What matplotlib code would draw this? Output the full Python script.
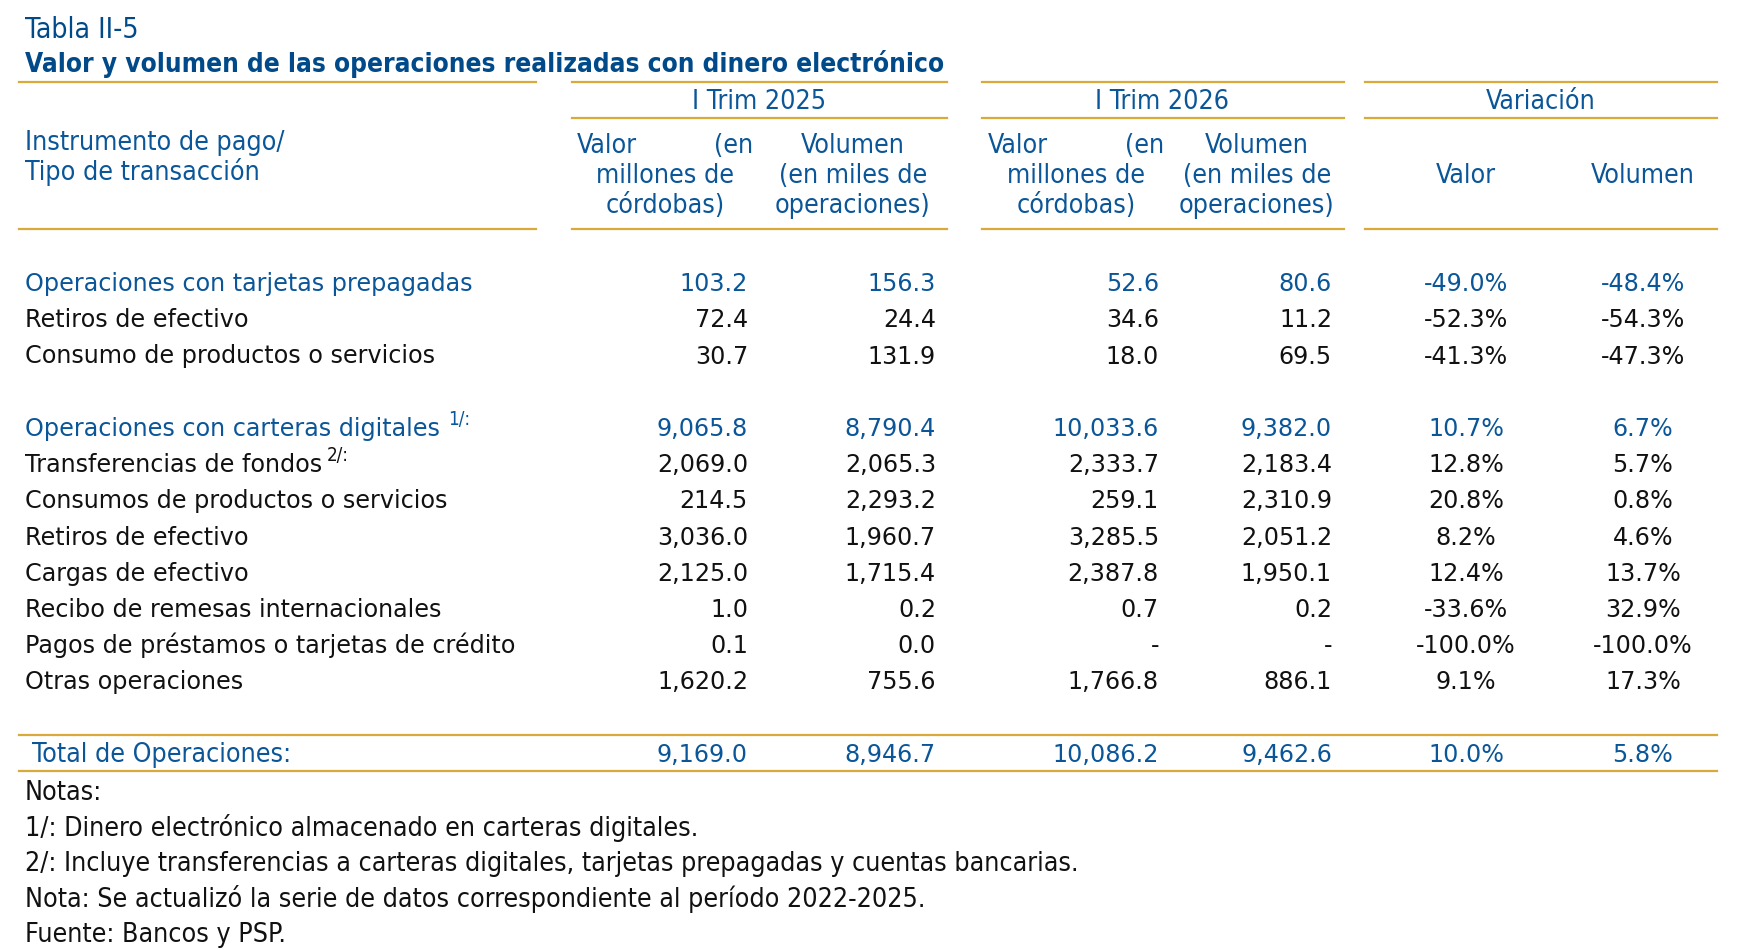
import matplotlib
matplotlib.use("Agg")
import matplotlib.pyplot as plt

# table data
row_labels = [
    "Operaciones con tarjetas prepagadas",
    "Retiros de efectivo",
    "Consumo de productos o servicios",
    "",
    "Operaciones con carteras digitales",
    "Transferencias de fondos",
    "Consumos de productos o servicios",
    "Retiros de efectivo",
    "Cargas de efectivo",
    "Recibo de remesas internacionales",
    "Pagos de préstamos o tarjetas de crédito",
    "Otras operaciones",
]
group_rows = [0, 4]
footnote_marks = {4: "1/:", 5: "2/:"}

valor_2025 = [103.2, 72.4, 30.7, None, 9065.8, 2069.0, 214.5, 3036.0, 2125.0, 1.0, 0.1, 1620.2]
volumen_2025 = [156.3, 24.4, 131.9, None, 8790.4, 2065.3, 2293.2, 1960.7, 1715.4, 0.2, 0.0, 755.6]
valor_2026 = [52.6, 34.6, 18.0, None, 10033.6, 2333.7, 259.1, 3285.5, 2387.8, 0.7, "-", 1766.8]
volumen_2026 = [80.6, 11.2, 69.5, None, 9382.0, 2183.4, 2310.9, 2051.2, 1950.1, 0.2, "-", 886.1]
var_valor = [-49.0, -52.3, -41.3, None, 10.7, 12.8, 20.8, 8.2, 12.4, -33.6, -100.0, 9.1]
var_volumen = [-48.4, -54.3, -47.3, None, 6.7, 5.7, 0.8, 4.6, 13.7, 32.9, -100.0, 17.3]

total_label = "Total de Operaciones:"
totals = [9169.0, 8946.7, 10086.2, 9462.6]
total_var = [10.0, 5.8]

notes = [
    "Notas:",
    "1/: Dinero electrónico almacenado en carteras digitales.",
    "2/: Incluye transferencias a carteras digitales, tarjetas prepagadas y cuentas bancarias.",
    "Nota: Se actualizó la serie de datos correspondiente al período 2022-2025.",
    "Fuente: Bancos y PSP.",
]

BLUE = "#0a5698"
TITLE_BLUE = "#004a8a"
GOLD = "#d9aa3a"
BLACK = "#111111"

# all text sits on its baseline so accents don't shift lines around
body = dict(family="DejaVu Sans", fontsize=17.2, va="baseline")
narrow = dict(family="DejaVu Sans", fontstretch="condensed", fontsize=19.2, va="baseline")
B = 6.6   # baseline offset below the visual centre, body font
N = 7.4   # same for the narrow font


def fmt_num(v):
    if v is None:
        return ""
    if isinstance(v, str):
        return v
    return f"{v:,.1f}"


def fmt_pct(v):
    if v is None:
        return ""
    return f"{v:.1f}%"


fig = plt.figure(figsize=(17.58, 9.5), dpi=100)
ax = fig.add_axes([0, 0, 1, 1])
ax.set_xlim(0, 1758)
ax.set_ylim(950, 0)
ax.axis("off")

# column anchors
x_label = 25
x_val25, x_vol25 = 748, 936
x_val26, x_vol26 = 1159, 1332
x_varval, x_varvol = 1466, 1643
blocks = [(19, 536), (572, 947), (982, 1344), (1365, 1717)]

# titles
ax.text(x_label, 30.5 + 7.8, "Tabla II-5", color=TITLE_BLUE, va="baseline",
        family="DejaVu Sans", fontstretch="condensed", fontsize=20.3)
ax.text(x_label, 64.5 + 7.2, "Valor y volumen de las operaciones realizadas con dinero electrónico",
        color=TITLE_BLUE, va="baseline", fontweight="bold", family="DejaVu Sans",
        fontstretch="condensed", fontsize=18.8)

# header rules
for x0, x1 in blocks:
    ax.plot([x0, x1], [82, 82], color=GOLD, lw=1.6)
    ax.plot([x0, x1], [229, 229], color=GOLD, lw=1.6)
for x0, x1 in blocks[1:]:
    ax.plot([x0, x1], [118, 118], color=GOLD, lw=1.6)

ax.text(759, 101.5 + N, "I Trim 2025", color=BLUE, ha="center", **narrow)
ax.text(1162, 101.5 + N, "I Trim 2026", color=BLUE, ha="center", **narrow)
ax.text(1541, 101.5 + N, "Variación", color=BLUE, ha="center", **narrow)

ax.text(x_label, 142.5 + N, "Instrumento de pago/", color=BLUE, **narrow)
ax.text(x_label, 172.5 + N, "Tipo de transacción", color=BLUE, **narrow)

for left, right in [(577, 753), (988, 1164)]:
    mid = (left + right) / 2
    ax.text(left, 145.5 + N, "Valor", color=BLUE, **narrow)
    ax.text(right, 145.5 + N, "(en", color=BLUE, ha="right", **narrow)
    ax.text(mid, 175.5 + N, "millones de", color=BLUE, ha="center", **narrow)
    ax.text(mid, 205.5 + N, "córdobas)", color=BLUE, ha="center", **narrow)
for mid in [853, 1257]:
    ax.text(mid, 145.5 + N, "Volumen", color=BLUE, ha="center", **narrow)
    ax.text(mid, 175.5 + N, "(en miles de", color=BLUE, ha="center", **narrow)
    ax.text(mid, 205.5 + N, "operaciones)", color=BLUE, ha="center", **narrow)
ax.text(x_varval, 175.5 + N, "Valor", color=BLUE, ha="center", **narrow)
ax.text(x_varvol, 175.5 + N, "Volumen", color=BLUE, ha="center", **narrow)

# body rows
y0, step = 284.5, 36.2
for i, label in enumerate(row_labels):
    y = y0 + i * step + B
    c = BLUE if i in group_rows else BLACK
    t = ax.text(x_label, y, label, color=c, **body)
    if i in footnote_marks:
        ax.annotate(footnote_marks[i], xy=(1, 0.5), xycoords=t, xytext=(3 if i == 5 else 6, 0),
                    textcoords="offset points", color=c, fontsize=13.5, va="bottom",
                    family="DejaVu Sans", fontstretch="condensed")
    ax.text(x_val25, y, fmt_num(valor_2025[i]), color=c, ha="right", **body)
    ax.text(x_vol25, y, fmt_num(volumen_2025[i]), color=c, ha="right", **body)
    ax.text(x_val26, y, fmt_num(valor_2026[i]), color=c, ha="right", **body)
    ax.text(x_vol26, y, fmt_num(volumen_2026[i]), color=c, ha="right", **body)
    ax.text(x_varval, y, fmt_pct(var_valor[i]), color=c, ha="center", **body)
    ax.text(x_varvol, y, fmt_pct(var_volumen[i]), color=c, ha="center", **body)

# total row
ax.plot([19, 1717], [735, 735], color=GOLD, lw=1.6)
ax.plot([19, 1717], [771, 771], color=GOLD, lw=1.6)
yt = 755
ax.text(32, yt + N, total_label, color=BLUE, **narrow)
for xx, v in zip([x_val25, x_vol25, x_val26, x_vol26], totals):
    ax.text(xx, yt + B, fmt_num(v), color=BLUE, ha="right", **body)
for xx, v in zip([x_varval, x_varvol], total_var):
    ax.text(xx, yt + B, fmt_pct(v), color=BLUE, ha="center", **body)

# notes
for k, line in enumerate(notes):
    ax.text(x_label, 793 + k * 35.4 + N, line, color=BLACK, **narrow)

fig.savefig("out.png", dpi=100, facecolor="white")
